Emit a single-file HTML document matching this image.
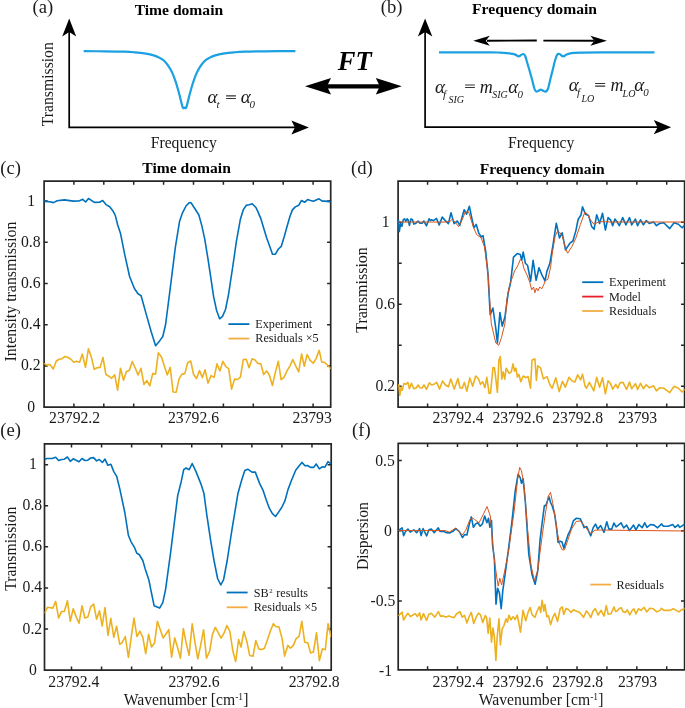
<!DOCTYPE html><html><head><meta charset="utf-8"><style>html,body{margin:0;padding:0;background:#fff;}svg{display:block;}text{font-family:"Liberation Serif",serif;}</style></head><body>
<svg width="685" height="708" viewBox="0 0 685 708">
<rect width="685" height="708" fill="#fff"/>
<defs>
<clipPath id="clc"><rect x="44.1" y="181.1" width="286.6" height="226"/></clipPath>
<clipPath id="cld"><rect x="398.1" y="181.1" width="286.5" height="226"/></clipPath>
<clipPath id="cle"><rect x="44.5" y="443.9" width="286.7" height="226.3"/></clipPath>
<clipPath id="clf"><rect x="398.2" y="443.4" width="286.4" height="226.5"/></clipPath>
</defs>
<path d="M69.2,32 L69.2,127.4 L297,127.4" fill="none" stroke="#000" stroke-width="1.7"/>
<path d="M69.2,18.4 L76.2,36.4 L69.2,31.9 L62.2,36.4 Z" fill="#000"/>
<path d="M308.9,127.4 L291.4,134.4 L294.9,127.4 L291.4,120.4 Z" fill="#000"/>
<path d="M83.7,51.17 C87.17,51.19 97.7,51.21 104.5,51.3 C111.3,51.39 119.5,51.53 124.5,51.7 C129.5,51.87 131.17,52.02 134.5,52.3 C137.83,52.58 141.17,52.85 144.5,53.4 C147.83,53.95 151.92,54.83 154.5,55.6 C157.08,56.37 158.35,57.1 160,58 C161.65,58.9 162.93,59.55 164.4,61 C165.87,62.45 167.48,64.72 168.8,66.7 C170.12,68.68 171.22,70.57 172.3,72.9 C173.38,75.23 174.35,77.93 175.3,80.7 C176.25,83.47 177.2,86.72 178,89.5 C178.8,92.28 179.38,94.63 180.1,97.4 C180.82,100.17 181.78,104.32 182.3,106.1 C182.82,107.88 182.83,107.87 183.2,108.1 C183.57,108.33 184.07,107.5 184.5,107.5 C184.93,107.5 185.43,108.33 185.8,108.1 C186.17,107.87 186.18,107.88 186.7,106.1 C187.22,104.32 188.18,100.17 188.9,97.4 C189.62,94.63 190.2,92.28 191,89.5 C191.8,86.72 192.75,83.47 193.7,80.7 C194.65,77.93 195.62,75.23 196.7,72.9 C197.78,70.57 198.88,68.68 200.2,66.7 C201.52,64.72 203.13,62.45 204.6,61 C206.07,59.55 207.35,58.9 209,58 C210.65,57.1 211.92,56.37 214.5,55.6 C217.08,54.83 221.17,53.95 224.5,53.4 C227.83,52.85 231.17,52.58 234.5,52.3 C237.83,52.02 239.5,51.87 244.5,51.7 C249.5,51.53 256.02,51.4 264.5,51.3 C272.98,51.2 290.25,51.13 295.4,51.1" fill="none" stroke="#1BA1E2" stroke-width="2.2" stroke-linejoin="round"/>
<path d="M425.1,31 L425.1,127.2 L658,127.2" fill="none" stroke="#000" stroke-width="1.7"/>
<path d="M425.1,18.4 L432.3,36.4 L425.1,31.9 L417.9,36.4 Z" fill="#000"/>
<path d="M671.1,127.2 L653.8,134.3 L657.6,127.2 L653.8,120.1 Z" fill="#000"/>
<path d="M487,40.8 L536.8,40.5" stroke="#000" stroke-width="1.9"/>
<path d="M473.3,40.8 L489.8,35.8 L485.8,40.8 L489.8,45.8 Z" fill="#000"/>
<path d="M543.4,40.6 L594,40.8" stroke="#000" stroke-width="1.9"/>
<path d="M606.9,40.8 L590.4,45.8 L594.4,40.8 L590.4,35.8 Z" fill="#000"/>
<path d="M439,52.3 C447.5,52.32 479.83,52.35 490,52.4 C500.17,52.45 497.17,52.48 500,52.6 C502.83,52.72 505.05,52.9 507,53.1 C508.95,53.3 510.33,53.55 511.7,53.8 C513.07,54.05 514.03,54.17 515.2,54.6 C516.37,55.03 517.73,56.33 518.7,56.4 C519.67,56.47 520.22,55.4 521,55 C521.78,54.6 522.72,53.87 523.4,54 C524.08,54.13 524.43,54.23 525.1,55.8 C525.77,57.37 526.62,60.78 527.4,63.4 C528.18,66.02 529.02,68.78 529.8,71.5 C530.58,74.22 531.32,76.78 532.1,79.7 C532.88,82.62 533.82,87.02 534.5,89 C535.18,90.98 535.53,91.3 536.2,91.6 C536.87,91.9 537.72,91.13 538.5,90.8 C539.28,90.47 540.12,89.6 540.9,89.6 C541.68,89.6 542.43,90.47 543.2,90.8 C543.97,91.13 544.72,91.9 545.5,91.6 C546.28,91.3 547.12,90.98 547.9,89 C548.68,87.02 549.42,82.8 550.2,79.7 C550.98,76.6 551.82,73.52 552.6,70.4 C553.38,67.28 554.13,63.63 554.9,61 C555.67,58.37 556.42,55.77 557.2,54.6 C557.98,53.43 558.62,53.7 559.6,54 C560.58,54.3 561.93,56.3 563.1,56.4 C564.27,56.5 565.25,55.15 566.6,54.6 C567.95,54.05 568.97,53.43 571.2,53.1 C573.43,52.77 575.2,52.72 580,52.6 C584.8,52.48 587.58,52.45 600,52.4 C612.42,52.35 645.42,52.32 654.5,52.3" fill="none" stroke="#1BA1E2" stroke-width="2.2" stroke-linejoin="round"/>
<path d="M325,86.3 L382,86.3" stroke="#000" stroke-width="4.2"/>
<path d="M305,86.3 L331,78.1 L327,86.3 L331,94.5 Z" fill="#000"/>
<path d="M401.8,86.3 L375.8,94.5 L379.8,86.3 L375.8,78.1 Z" fill="#000"/>
<path d="M44.1,181.1 H330.7 V407.1 H44.1 Z" fill="none" stroke="#262626" stroke-width="1.7"/><path d=" M73.9,181.1 v3.6 M73.9,407.1 v-3.6 M103.8,181.1 v3.6 M103.8,407.1 v-3.6 M133.7,181.1 v3.6 M133.7,407.1 v-3.6 M163.6,181.1 v3.6 M163.6,407.1 v-3.6 M193.5,181.1 v3.6 M193.5,407.1 v-3.6 M223.4,181.1 v3.6 M223.4,407.1 v-3.6 M253.3,181.1 v3.6 M253.3,407.1 v-3.6 M283.2,181.1 v3.6 M283.2,407.1 v-3.6 M313.1,181.1 v3.6 M313.1,407.1 v-3.6 M44.1,365.9 h3.6 M330.7,365.9 h-3.6 M44.1,324.7 h3.6 M330.7,324.7 h-3.6 M44.1,283.5 h3.6 M330.7,283.5 h-3.6 M44.1,242.3 h3.6 M330.7,242.3 h-3.6 M44.1,201.1 h3.6 M330.7,201.1 h-3.6" fill="none" stroke="#262626" stroke-width="1.5"/>
<path d="M398.1,181.1 H684.6 V407.1 H398.1 Z" fill="none" stroke="#262626" stroke-width="1.7"/><path d=" M427.59,181.1 v3.6 M427.59,407.1 v-3.6 M457.48,181.1 v3.6 M457.48,407.1 v-3.6 M487.37,181.1 v3.6 M487.37,407.1 v-3.6 M517.26,181.1 v3.6 M517.26,407.1 v-3.6 M547.15,181.1 v3.6 M547.15,407.1 v-3.6 M577.04,181.1 v3.6 M577.04,407.1 v-3.6 M606.93,181.1 v3.6 M606.93,407.1 v-3.6 M636.82,181.1 v3.6 M636.82,407.1 v-3.6 M666.71,181.1 v3.6 M666.71,407.1 v-3.6 M398.1,386.2 h3.6 M684.6,386.2 h-3.6 M398.1,345.2 h3.6 M684.6,345.2 h-3.6 M398.1,304.2 h3.6 M684.6,304.2 h-3.6 M398.1,263.2 h3.6 M684.6,263.2 h-3.6 M398.1,222.2 h3.6 M684.6,222.2 h-3.6" fill="none" stroke="#262626" stroke-width="1.5"/>
<path d="M44.5,443.9 H331.2 V670.2 H44.5 Z" fill="none" stroke="#262626" stroke-width="1.7"/><path d=" M71.5,443.9 v3.6 M71.5,670.2 v-3.6 M101.56,443.9 v3.6 M101.56,670.2 v-3.6 M131.62,443.9 v3.6 M131.62,670.2 v-3.6 M161.68,443.9 v3.6 M161.68,670.2 v-3.6 M191.74,443.9 v3.6 M191.74,670.2 v-3.6 M221.8,443.9 v3.6 M221.8,670.2 v-3.6 M251.86,443.9 v3.6 M251.86,670.2 v-3.6 M281.92,443.9 v3.6 M281.92,670.2 v-3.6 M311.98,443.9 v3.6 M311.98,670.2 v-3.6 M44.5,629.02 h3.6 M331.2,629.02 h-3.6 M44.5,587.94 h3.6 M331.2,587.94 h-3.6 M44.5,546.86 h3.6 M331.2,546.86 h-3.6 M44.5,505.78 h3.6 M331.2,505.78 h-3.6 M44.5,464.7 h3.6 M331.2,464.7 h-3.6" fill="none" stroke="#262626" stroke-width="1.5"/>
<path d="M398.2,443.4 H684.6 V669.9 H398.2 Z" fill="none" stroke="#262626" stroke-width="1.7"/><path d=" M427.59,443.4 v3.6 M427.59,669.9 v-3.6 M457.48,443.4 v3.6 M457.48,669.9 v-3.6 M487.37,443.4 v3.6 M487.37,669.9 v-3.6 M517.26,443.4 v3.6 M517.26,669.9 v-3.6 M547.15,443.4 v3.6 M547.15,669.9 v-3.6 M577.04,443.4 v3.6 M577.04,669.9 v-3.6 M606.93,443.4 v3.6 M606.93,669.9 v-3.6 M636.82,443.4 v3.6 M636.82,669.9 v-3.6 M666.71,443.4 v3.6 M666.71,669.9 v-3.6 M398.2,460.5 h3.6 M684.6,460.5 h-3.6 M398.2,530.75 h3.6 M684.6,530.75 h-3.6 M398.2,601 h3.6 M684.6,601 h-3.6" fill="none" stroke="#262626" stroke-width="1.5"/>
<polyline points="44,363.4 46.9,365.1 49.8,364.5 53.3,369 56.3,361 59.2,359.3 62.1,358.7 65,356.4 67.9,357.5 70.9,359.3 73.8,362.2 76.7,361.3 79.6,362.2 82.3,354 85.5,367.4 88.4,348.8 91.3,356.9 94.2,369.2 97.1,367.7 100.1,367.4 103,357.5 105.9,374.5 108.8,376.2 111.7,378.3 114.7,374.8 117.6,390.2 120.5,368.3 123.5,380.3 126.4,371.5 129.3,370.6 132.3,361.6 135.2,368 138.1,375 141,368.3 143.9,384.4 146.9,380.6 149.8,385.8 152.7,373.6 155.6,374.1 158.3,352.8 161.5,356.9 164.4,366.3 167.3,375 170.2,367.4 173.1,392 176.1,392.3 179,379.1 181.9,374.1 184.8,373.6 187.7,362.8 190.7,361 193.6,374.5 196.5,378.5 199.5,370.6 202.4,377.6 205.1,369.8 208,383.2 211,375.6 214.1,377.4 217,363.9 219.9,370.9 222.9,361.3 225.8,366.6 228.7,368.6 231.6,389.1 234.5,379.1 237.5,379.5 240.4,377.1 243.3,359.6 246.2,359.3 249.1,367.8 252.1,358.7 255,359.9 257.9,363.4 260.8,363.9 263.7,374.5 266.6,370.9 269.3,375 272.4,385.5 275.2,372.9 278.3,361.2 281.1,379.6 283.9,377.5 287,370.9 290,365.8 292.8,359.6 295.7,365.8 298.7,371.9 301.6,354 304.3,366.3 307.1,354.5 310,360.1 313.2,363.2 316.1,358.6 319.2,350.4 321.7,361.9 324.8,362.5 331,368.8" fill="none" stroke="#EDB120" stroke-width="1.6" stroke-linejoin="round" clip-path="url(#clc)"/>
<polyline points="44,201.4 49.8,201.7 53.5,202.6 57.1,200.8 64.4,199.9 73.2,201.1 79,201 82.7,199.3 85.6,202 88.5,198.5 94.4,202.4 99.5,202.3 102.7,200.5 106,204.6 109.7,206.8 112.6,210.4 115.2,215.1 117.7,225 120.6,233.8 124.8,254.9 129.6,276.5 134.4,288.5 138,293.8 141.1,295.7 146.4,314.9 151.2,331.7 155.6,345.7 159.6,340.9 162.8,336.5 165.6,324.5 170.5,286.1 175.3,247.7 179.6,221.2 182.5,212.8 186,206 189.3,202.6 191,202.8 194.9,208.8 198.8,214.7 201.8,225.6 204.8,239.4 207.7,257.2 210.7,276.9 213.6,296.7 216.6,310.5 219.6,318.8 222.5,316.4 225.5,309.5 228.5,294.7 232.4,269 236.4,241.4 240.3,219.6 243.3,209.8 246.2,205.4 249.2,204.8 252.2,203.8 256.1,207.8 257.9,211.6 260.8,218.6 263.8,228.5 266.7,237.9 269.6,246.1 272.5,254.2 275.4,254.2 278.4,249 281.3,246.3 284.2,236.7 287.1,226.2 290,216.3 292.4,209.9 295.3,206.9 298.8,205.2 301.5,200.5 304.6,202.3 307.6,199.6 310.5,200.5 313.4,201.3 319,198.8 322.2,201.1 325.1,201.1 331,201.9" fill="none" stroke="#0072BD" stroke-width="1.6" stroke-linejoin="round" clip-path="url(#clc)"/>
<polyline points="398.7,384.3 399.8,395.3 401.2,387.2 402.4,390.1 403.8,383.6 406,384.3 407.9,382.4 409.4,388.7 411.4,383.3 413.8,388.7 416.2,388 418.1,385 419.9,387.7 422.1,388 424,385 426.5,389.4 429.4,382.8 431.6,385 434.5,383.9 436.7,382.4 439.6,389.1 442.5,381 445.4,385 448.4,386.8 450.8,378.9 454.2,389.1 457.9,378.5 460,387.7 462.2,388.2 464.4,382.4 466.9,391.2 469.8,378 472.7,386.2 475.7,376 478.3,378.5 480.5,384.3 482.7,381.8 484.9,387.7 486.8,377.4 489.1,393.5 490.5,393.1 493,367.5 494.5,367.8 497.4,392.3 498.9,360.2 500.3,356.6 501.8,379.2 503.2,371.9 504.7,379.2 506.2,368.2 509.1,373.4 511.3,371.9 513,363.9 514.5,371.2 515.9,368.2 517.4,377 518.9,374.5 520.8,381.8 523.2,376 525.6,377.7 528.1,376.6 530.5,388.2 532,360.2 534.9,358.8 536.4,380.4 537.8,365.8 540.5,367.8 543.4,378.9 547,376.6 550,385 552.2,388.2 555.8,377.7 559.2,391.6 562.4,381.4 565.3,387.2 568.9,377.4 571.9,380.7 574.8,382.1 577.7,374.8 580.6,379.9 582.5,374.1 585,386 586.5,388.2 589.4,382.4 593.8,390.9 596.7,377.4 599.6,387.2 602.5,377.7 605.4,393.8 608.1,380.7 610.5,383.6 612.7,389.1 615.7,384.3 617.8,388.2 620,382.8 623,382.4 626.6,389.4 629.5,382.1 631.7,388.7 635.4,383.6 637.6,389.4 640.5,383.3 643.4,388.7 646.3,384.7 649.2,387.7 653.6,385.8 656.5,390.9 659.5,387.7 663.8,388.2 669.7,392.6 674.1,386.2 678.4,388.2 682.1,392 685,389.1" fill="none" stroke="#EDB120" stroke-width="1.6" stroke-linejoin="round" clip-path="url(#cld)"/>
<polyline points="398.4,219.3 399.3,231.5 400.6,223.6 401.9,226.3 403.3,219.7 404.6,218.8 405.9,221.5 407.2,218.8 408.1,219.7 409.4,225.4 411.1,218.8 412.5,219.7 413.8,224.1 415.5,223.6 418.1,221 419.9,223.2 422.1,223.2 423.8,221 426.5,225.8 429.1,218.8 430.4,220.6 431.7,219.7 433.5,220.6 436.5,218.4 439.2,225 442.2,217.1 445.3,220.6 448.4,223.6 451,212.7 454.1,223.6 457.4,221 459.7,225.5 464.2,209.7 466.5,214.2 469.4,206.3 471.7,217.6 473.9,227.8 476.2,224.4 478.9,233.4 481.2,236.8 483,235.7 485.7,251.5 488,274.1 490.2,314.8 492.9,308 495.8,328.3 497.4,343 499.9,312.5 502.2,326.1 504.9,317 508.3,292.2 510.5,283.1 513.5,257.1 517.2,253.6 520.2,254.4 521.7,260.3 523.2,252.1 525.4,263.3 527.6,265.5 530.6,281.1 533.1,260.3 536.1,280.3 539,267.7 542,275.1 545,280.8 546.9,271.4 549.9,263.3 552.8,246.2 556.3,223.2 559.5,238 562.2,232.8 565.5,249.9 569.9,243.2 572.9,241 575.9,230.6 578.1,219.5 581,215 582.5,206.9 585.5,214.3 588.6,215.4 591.6,226.4 594.1,229.3 596.7,214.7 599.6,223.5 602.5,213.2 605.4,230 608.1,217.6 610.5,219.8 612.7,225.7 614.9,219.1 617.1,222 619.3,225.7 622.7,217.6 625.9,224.9 629.5,217.6 631.7,224.9 635.4,219.1 637.6,225.7 640.5,219.8 643.4,224.9 646.3,220.5 649.2,223.5 653.6,222 656.5,225.7 659.5,223.5 663.8,222.7 669.7,228.6 674.1,222.7 678.4,224.2 682.1,227.8 685,224.9" fill="none" stroke="#0072BD" stroke-width="1.6" stroke-linejoin="round" clip-path="url(#cld)"/>
<polyline points="398.2,222 420,222 445,222.1 450,221.3 452.3,219.3 455,222 458.6,226.6 462,220 465.3,212 468.7,212 473.2,226.6 476.6,234.5 481.2,237.9 484.5,247 488,274.1 491.3,323.8 495.8,343 498.8,345.3 501.5,337.4 504.9,323.8 507,298.4 509.8,284.2 512.7,276.6 514.6,270.9 516.5,268 518.4,264.3 520.3,259.5 522.2,261.4 524.1,269 526.9,274.7 529.8,282.3 531.7,289.9 533.6,287 534.9,292.7 536.4,288 537.9,290.8 539.8,287 541.7,288.9 543.6,285.1 545.5,280.4 547.8,279.4 550.6,267.1 552.1,254.4 555.1,236.6 557.3,231.4 559.5,232.1 562.5,236.6 565.5,248.4 567.7,253.2 572.1,246.2 575.9,238 580.3,224.7 584.8,212.1 587.7,214.3 589.4,218.4 593.8,224.2 599.6,221.6 610,222 685,222" fill="none" stroke="#D95319" stroke-width="1.0" stroke-linejoin="round" clip-path="url(#cld)"/>
<polyline points="44.5,613.4 47.5,607.3 52.8,608.1 55.7,601.4 58.6,618 61.5,611.6 64.4,611.3 67.4,600.7 70.3,621.3 73.2,608.7 76.1,616.6 79,623.3 82,605.8 84.9,618 87.8,617.1 90.7,606.9 93.6,604 96.6,619.2 99.5,610.8 102.2,626 105,607.5 108,635.3 110.8,618.3 113.8,637.3 116.6,626.2 119.7,644.3 122.3,642.3 125.3,636.5 128.4,657.5 131.4,636.1 134,618 136.9,636.5 139.9,631.1 142.8,637.3 145.7,653.6 148.6,634.4 151.5,647 154.5,643.1 157.4,621.3 160.3,629.7 163.2,637.9 166.1,633.8 168.8,629.7 171.6,657.2 174.7,637.9 177.5,647.2 180.5,658.3 183.3,628.5 186.3,643.7 189.1,655.4 192.2,623.9 195,642.6 197.8,658.9 200.7,644.9 203.6,629.7 206.5,658.3 209.8,650.7 212.4,634.4 215.3,627.4 218.2,632.6 221.1,638.1 224,633.2 226.9,625.6 229.9,631.5 232.8,650.7 235.7,661.5 238.6,639.6 241,647 243.9,631.5 246.8,641.4 249.7,655.4 253,656.3 255.8,640.5 258.8,649 261.4,649.6 264.3,648.6 267.1,640.8 270.5,630.7 273.3,623.7 276.1,626.7 278.9,626.7 282.1,638.6 284.6,656.1 287.8,645.4 290.5,648.2 293.4,645.4 296.1,638.6 299.1,636.3 301.8,621.4 304.7,642.2 307.8,642.9 310.6,653 313.4,652.1 316.5,632.9 319.4,660.6 322.4,648.8 325.3,649.7 328.1,623.7 331,637.2" fill="none" stroke="#EDB120" stroke-width="1.6" stroke-linejoin="round" clip-path="url(#cle)"/>
<polyline points="44.5,459.5 46.9,458.5 52,458.5 55.7,457.3 58.6,460.5 61.5,459.5 64.4,459.2 67.4,457 70.3,461.4 73.2,458.8 79,461.7 82,458.5 84.9,460.5 87.8,460.2 90.7,458 93.6,457.6 96.6,460.9 99.2,459.5 102.4,462.4 105,459.1 107.9,465.3 110.9,464.2 113.8,471.6 116.7,476.3 119.9,489.4 124.8,512.5 128.4,535.3 130.8,541.3 134.4,547.3 136.8,553.3 139.2,554.5 142.8,560.5 145.2,568.9 148.8,579.7 151.2,591.7 154.1,605.7 159.6,608.1 162.8,602.6 165.6,589.3 170.5,553.3 175.3,514.9 177.7,495.6 181.3,481.2 183.7,469.7 186.1,468 189.2,469.7 192.2,463.5 196,471.6 200.8,483.6 203.9,493.2 206.8,514.9 210.4,538.9 214,560.5 217.6,578.5 220.8,585 223.6,579.7 227.2,560.5 232,529.3 238,493.2 241.7,480 244.8,470.4 247.7,469.2 252,472.1 255.3,472.1 259.7,483.6 263.1,490.4 266.2,499.7 269.3,508.2 272.4,513.7 275.5,516.5 278.6,512.1 281.7,507.5 284.8,501.2 288,489.6 291.8,479.5 295.7,470.2 298.8,466.3 301.9,462.4 305,465.8 307.4,465.5 310.5,467.4 313.6,467.4 316.2,464 319.3,468.9 322.1,466.8 324.9,467.1 328,461.6 331,464" fill="none" stroke="#0072BD" stroke-width="1.6" stroke-linejoin="round" clip-path="url(#cle)"/>
<polyline points="398.5,616 402.1,612.1 403.6,620 405.6,616.5 407.9,613.3 410.3,616.5 415.3,613.6 417.3,616.5 419.6,612.8 421.1,620 423.5,613.6 426.6,620.3 428.9,614.2 431.3,613.3 434.8,617.1 438.3,611.6 440.6,616.3 443,615.9 445.9,617.1 448.8,615.9 451.1,616.8 454.1,617.7 456.4,614 459.9,611.6 462.2,617.1 464.6,615.4 466.9,623 469.2,616.5 471.3,612.4 473.7,623.5 476.4,616.6 478.5,613.1 480.6,614.9 482.7,622.6 485.3,615.5 486.7,618.1 488.1,633.3 489.8,618.1 491.5,642.1 492.9,628 494.3,636.4 495.9,660.5 497.1,637.8 499,618.8 500.4,644.9 502.2,628.7 503.9,625.8 506,618.8 507.5,622.3 508.9,615.2 511,619.8 513.1,616.6 515.2,619.5 517.3,615.2 520.5,632.2 523,610.3 525.8,620.9 528,612.4 530.1,607.5 532.2,614.9 535,617.3 537.1,611 539.3,606.7 540.7,612.4 542.1,600.4 543.8,611 544.9,604.6 546.8,616.7 548.5,615.8 550.6,624.7 552.6,617.9 554.9,613.4 557.6,621.4 560.2,608.5 562.3,606.8 563.7,614.4 566,608.5 568.4,609.5 570.9,612.3 573.6,609.7 575.9,611.1 579.5,612.3 583.5,617.3 586.5,610.9 588.8,613.8 590.8,617.6 592.9,611.5 595.2,608.5 598.1,615 601.1,610.3 604,616.1 606.3,605.6 608.1,614.1 611,613.8 613.9,607.1 615.7,611.5 617,610.9 619.1,608.8 621.1,607.6 623.2,611.9 625.2,612.4 627.3,609.9 629.8,615 631.9,610.9 633.9,608.8 635.9,613.9 638.5,608.8 641.1,610.4 644.1,607.3 646.7,611.9 649.7,608.3 653.3,608.8 656.9,611.9 660,610.4 661.5,608.3 664,610.4 670.2,610.4 673.2,608.8 676.3,610.4 678.9,611.9 681.4,609.9 685,608.3" fill="none" stroke="#EDB120" stroke-width="1.6" stroke-linejoin="round" clip-path="url(#clf)"/>
<polyline points="398.5,530.4 402.1,527.8 403.6,535.6 405.6,531.5 407.9,529 410.3,532.1 413.8,529.8 416.7,532.7 419.6,528.6 421.1,535.6 423.1,528.6 426.6,536 428.9,529.8 431.3,529 434.2,532.7 438.3,527.8 440,531.5 443.5,531.3 446.5,532.7 450,532.9 452.9,531.3 455.8,528.6 459.3,531.5 462.5,537.6 464.6,534.5 466.9,535 469.5,523.4 471.3,516.9 473.4,527.3 475.6,523.9 477.9,522.8 480.2,526.2 482.4,523.9 484.7,516 486.9,522.8 488.5,518.3 489.9,527.3 491.5,520.5 492.6,545.4 494.4,559 496,604.2 497.6,588.3 499.4,592.9 501.2,608.7 502.8,590.6 505,574.8 508.4,549.9 511.8,522.8 515.2,491.2 518.1,474.2 520.2,477.6 521.5,483.2 523.1,478.7 525.4,502.5 528.8,554.4 532.1,574.8 535.1,584.3 537.8,570.3 540,540.7 541.8,525.5 544.4,505.5 545.8,505.7 547.6,500.4 549.1,496.9 550.5,502.2 552.3,506.3 554.6,513.9 556.4,526.7 558.1,542.5 560.4,541.3 562,541.9 563.9,548.3 565.7,541.9 568,534.9 570.4,530.2 573.3,520.9 576.2,518.3 580.3,518.8 582.6,523.8 584.1,527.6 586.7,526.5 588.5,530.8 590.8,535.8 593.1,527.9 595.5,524.1 597.8,529.1 600.7,525.5 604,532.3 606.8,521.8 608.9,529.1 611.8,529.1 613.9,523 616.1,526.9 618.4,525.1 621.1,522.8 623.7,528 626.6,525.1 629.5,530.6 633.6,525.1 635.9,529.8 638.9,524.5 642.1,527.8 644.7,522.8 647,527.4 650.5,524.5 654.1,525.1 657.6,527.8 661.6,523.9 663.4,526.3 668.1,526.3 672.7,524.5 675.1,527.4 678,524.8 679.7,527.4 685,523.9" fill="none" stroke="#0072BD" stroke-width="1.6" stroke-linejoin="round" clip-path="url(#clf)"/>
<polyline points="398.5,530.6 445,530.6 449.4,532.1 455.8,528 462.2,535 465.7,530.4 470,519.4 472.7,518.1 474.5,519.4 479,522.8 483.6,513.8 487,506.5 490.3,516 493.7,554.4 496.7,577 498.2,586.1 499.8,578.2 501.6,584.9 503.9,574.8 508.4,552.2 514.1,511.5 517.5,479.9 519.7,467.4 521.5,470.8 524.2,486.6 527.6,529.6 531,565.7 534.4,580.4 537.8,570.3 540,552.4 542.3,534.9 545.3,513.9 548.2,496.4 550.5,492.3 552.8,503.4 555.2,517.4 557.5,533.7 559.9,544.8 562.2,549.8 564.5,549.8 568,539.6 571.5,529.1 576.2,521.5 580.3,520.9 584.4,526.1 587.9,530.2 590.8,533.7 594.9,530.2 600.7,530 610.1,530.2 685,531" fill="none" stroke="#D95319" stroke-width="1.0" stroke-linejoin="round" clip-path="url(#clf)"/>
<path d="M228.4,324.1 H249.4" stroke="#0072BD" stroke-width="1.8"/>
<path d="M228.4,338.6 H249.4" stroke="#F2AE45" stroke-width="1.8"/>
<path d="M582.2,282.2 H603.3" stroke="#0072BD" stroke-width="1.8"/>
<path d="M582.2,296.6 H603.3" stroke="#E8202A" stroke-width="1.8"/>
<path d="M582.2,311 H603.3" stroke="#F2AE45" stroke-width="1.8"/>
<path d="M226.7,592.5 H247.6" stroke="#0072BD" stroke-width="1.8"/>
<path d="M226.7,607.3 H247.6" stroke="#F2AE45" stroke-width="1.8"/>
<path d="M590.3,584.6 H611" stroke="#F2AE45" stroke-width="1.8"/>
<g style="filter:grayscale(1)">
<text x="255.3" y="328" font-size="12.2" text-anchor="start" font-weight="normal" font-style="normal" fill="#1a1a1a" >Experiment</text>
<text x="255.3" y="342.1" font-size="12.2" text-anchor="start" font-weight="normal" font-style="normal" fill="#1a1a1a" >Residuals ×5</text>
<text x="609" y="286" font-size="12.2" text-anchor="start" font-weight="normal" font-style="normal" fill="#1a1a1a" >Experiment</text>
<text x="609" y="300.5" font-size="12.2" text-anchor="start" font-weight="normal" font-style="normal" fill="#1a1a1a" >Model</text>
<text x="609" y="315" font-size="12.2" text-anchor="start" font-weight="normal" font-style="normal" fill="#1a1a1a" >Residuals</text>
<text x="253.7" y="596.9" font-size="12.2" text-anchor="start" font-weight="normal" font-style="normal" fill="#1a1a1a" >SB<tspan font-size="6.8" dy="-4.3" dx="0.6">2</tspan><tspan dy="4.3" dx="0.6"> results</tspan></text>
<text x="253.7" y="611.3" font-size="12.2" text-anchor="start" font-weight="normal" font-style="normal" fill="#1a1a1a" >Residuals ×5</text>
<text x="616.5" y="589" font-size="12.2" text-anchor="start" font-weight="normal" font-style="normal" fill="#1a1a1a" >Residuals</text>
<text x="178.9" y="14.9" font-size="15.6" text-anchor="middle" font-weight="bold" font-style="normal" fill="#000" >Time domain</text>
<text x="534.5" y="14.1" font-size="15.6" text-anchor="middle" font-weight="bold" font-style="normal" fill="#000" >Frequency domain</text>
<text x="186.6" y="173.4" font-size="15.6" text-anchor="middle" font-weight="bold" font-style="normal" fill="#000" >Time domain</text>
<text x="542.2" y="173.7" font-size="15.6" text-anchor="middle" font-weight="bold" font-style="normal" fill="#000" >Frequency domain</text>
<text x="32.6" y="13.1" font-size="18.6" text-anchor="start" font-weight="normal" font-style="normal" fill="#1a1a1a" >(a)</text>
<text x="380.8" y="13.1" font-size="18.6" text-anchor="start" font-weight="normal" font-style="normal" fill="#1a1a1a" >(b)</text>
<text x="0.3" y="174.3" font-size="18.6" text-anchor="start" font-weight="normal" font-style="normal" fill="#1a1a1a" >(c)</text>
<text x="351" y="174.3" font-size="18.6" text-anchor="start" font-weight="normal" font-style="normal" fill="#1a1a1a" >(d)</text>
<text x="0.3" y="435.6" font-size="18.6" text-anchor="start" font-weight="normal" font-style="normal" fill="#1a1a1a" >(e)</text>
<text x="352" y="435.6" font-size="18.6" text-anchor="start" font-weight="normal" font-style="normal" fill="#1a1a1a" >(f)</text>
<text x="183.8" y="147.6" font-size="15.7" text-anchor="middle" font-weight="normal" font-style="normal" fill="#1a1a1a" >Frequency</text>
<text x="541.2" y="147.7" font-size="15.7" text-anchor="middle" font-weight="normal" font-style="normal" fill="#1a1a1a" >Frequency</text>
<text x="52.7" y="84.2" font-size="15.7" text-anchor="middle" font-weight="normal" font-style="normal" fill="#1a1a1a" transform="rotate(-90 52.7 84.2)">Transmission</text>
<text x="354.7" y="69.6" font-size="26.5" text-anchor="middle" font-weight="bold" font-style="italic" fill="#000" >FT</text>
<text x="207.5" y="103.2" font-size="19" text-anchor="start" font-weight="normal" font-style="italic" fill="#1a1a1a" >α</text>
<text x="216.5" y="107.5" font-size="11" text-anchor="start" font-weight="normal" font-style="italic" fill="#1a1a1a" >t</text>
<path d="M226.1,95.9 H235.9 M226.1,98.5 H235.9" stroke="#333" stroke-width="1.1"/>
<text x="240.8" y="103.2" font-size="19" text-anchor="start" font-weight="normal" font-style="italic" fill="#1a1a1a" >α</text>
<text x="249.4" y="107.5" font-size="11" text-anchor="start" font-weight="normal" font-style="italic" fill="#1a1a1a" >0</text>
<text x="435" y="92.6" font-size="19" text-anchor="start" font-weight="normal" font-style="italic" fill="#1a1a1a" >α</text>
<text x="443" y="97.8" font-size="11" text-anchor="start" font-weight="normal" font-style="italic" fill="#1a1a1a" >f</text>
<text x="448.5" y="103.2" font-size="10" text-anchor="start" font-weight="normal" font-style="italic" fill="#1a1a1a" >SIG</text>
<path d="M465.1,85 H474.9 M465.1,87.5 H474.9" stroke="#333" stroke-width="1.1"/>
<text x="479.8" y="92.6" font-size="18" text-anchor="start" font-weight="normal" font-style="italic" fill="#1a1a1a" >m</text>
<text x="492.2" y="98.2" font-size="10" text-anchor="start" font-weight="normal" font-style="italic" fill="#1a1a1a" >SIG</text>
<text x="508.2" y="92.6" font-size="19" text-anchor="start" font-weight="normal" font-style="italic" fill="#1a1a1a" >α</text>
<text x="517.5" y="97.8" font-size="11" text-anchor="start" font-weight="normal" font-style="italic" fill="#1a1a1a" >0</text>
<text x="568.8" y="91.1" font-size="19" text-anchor="start" font-weight="normal" font-style="italic" fill="#1a1a1a" >α</text>
<text x="577" y="96.3" font-size="11" text-anchor="start" font-weight="normal" font-style="italic" fill="#1a1a1a" >f</text>
<text x="581.5" y="101.9" font-size="10" text-anchor="start" font-weight="normal" font-style="italic" fill="#1a1a1a" >LO</text>
<path d="M595.1,83.5 H605.2 M595.1,86.1 H605.2" stroke="#333" stroke-width="1.1"/>
<text x="610.5" y="91.1" font-size="18" text-anchor="start" font-weight="normal" font-style="italic" fill="#1a1a1a" >m</text>
<text x="622.6" y="96.8" font-size="10" text-anchor="start" font-weight="normal" font-style="italic" fill="#1a1a1a" >LO</text>
<text x="634.3" y="91.1" font-size="19" text-anchor="start" font-weight="normal" font-style="italic" fill="#1a1a1a" >α</text>
<text x="643.3" y="96.3" font-size="11" text-anchor="start" font-weight="normal" font-style="italic" fill="#1a1a1a" >0</text>
<text x="35.2" y="205.6" font-size="15.7" text-anchor="end" font-weight="normal" font-style="normal" fill="#1a1a1a" >1</text>
<text x="40.5" y="246.8" font-size="15.7" text-anchor="end" font-weight="normal" font-style="normal" fill="#1a1a1a" >0.8</text>
<text x="40.5" y="288" font-size="15.7" text-anchor="end" font-weight="normal" font-style="normal" fill="#1a1a1a" >0.6</text>
<text x="40.5" y="329.2" font-size="15.7" text-anchor="end" font-weight="normal" font-style="normal" fill="#1a1a1a" >0.4</text>
<text x="40.5" y="370.4" font-size="15.7" text-anchor="end" font-weight="normal" font-style="normal" fill="#1a1a1a" >0.2</text>
<text x="35.2" y="411.6" font-size="15.7" text-anchor="end" font-weight="normal" font-style="normal" fill="#1a1a1a" >0</text>
<text x="389.5" y="226.7" font-size="15.7" text-anchor="end" font-weight="normal" font-style="normal" fill="#1a1a1a" >1</text>
<text x="395.2" y="308.7" font-size="15.7" text-anchor="end" font-weight="normal" font-style="normal" fill="#1a1a1a" >0.6</text>
<text x="395.2" y="390.7" font-size="15.7" text-anchor="end" font-weight="normal" font-style="normal" fill="#1a1a1a" >0.2</text>
<text x="36.8" y="469.2" font-size="15.7" text-anchor="end" font-weight="normal" font-style="normal" fill="#1a1a1a" >1</text>
<text x="42.2" y="510.28" font-size="15.7" text-anchor="end" font-weight="normal" font-style="normal" fill="#1a1a1a" >0.8</text>
<text x="42.2" y="551.36" font-size="15.7" text-anchor="end" font-weight="normal" font-style="normal" fill="#1a1a1a" >0.6</text>
<text x="42.2" y="592.44" font-size="15.7" text-anchor="end" font-weight="normal" font-style="normal" fill="#1a1a1a" >0.4</text>
<text x="42.2" y="633.52" font-size="15.7" text-anchor="end" font-weight="normal" font-style="normal" fill="#1a1a1a" >0.2</text>
<text x="36.8" y="674.6" font-size="15.7" text-anchor="end" font-weight="normal" font-style="normal" fill="#1a1a1a" >0</text>
<text x="394.8" y="466" font-size="15.7" text-anchor="end" font-weight="normal" font-style="normal" fill="#1a1a1a" >0.5</text>
<text x="391.9" y="535.85" font-size="15.7" text-anchor="end" font-weight="normal" font-style="normal" fill="#1a1a1a" >0</text>
<text x="395.3" y="606.3" font-size="15.7" text-anchor="end" font-weight="normal" font-style="normal" fill="#1a1a1a" >-0.5</text>
<text x="392.2" y="676.25" font-size="15.7" text-anchor="end" font-weight="normal" font-style="normal" fill="#1a1a1a" >-1</text>
<text x="74.6" y="422.8" font-size="15.7" text-anchor="middle" font-weight="normal" font-style="normal" fill="#1a1a1a" >23792.2</text>
<text x="193.5" y="422.8" font-size="15.7" text-anchor="middle" font-weight="normal" font-style="normal" fill="#1a1a1a" >23792.6</text>
<text x="312.2" y="422.8" font-size="15.7" text-anchor="middle" font-weight="normal" font-style="normal" fill="#1a1a1a" >23793</text>
<text x="458.1" y="423.3" font-size="15.7" text-anchor="middle" font-weight="normal" font-style="normal" fill="#1a1a1a" >23792.4</text>
<text x="517.9" y="423.3" font-size="15.7" text-anchor="middle" font-weight="normal" font-style="normal" fill="#1a1a1a" >23792.6</text>
<text x="577.7" y="423.3" font-size="15.7" text-anchor="middle" font-weight="normal" font-style="normal" fill="#1a1a1a" >23792.8</text>
<text x="637.6" y="423.3" font-size="15.7" text-anchor="middle" font-weight="normal" font-style="normal" fill="#1a1a1a" >23793</text>
<text x="73.8" y="687" font-size="15.7" text-anchor="middle" font-weight="normal" font-style="normal" fill="#1a1a1a" >23792.4</text>
<text x="194" y="687" font-size="15.7" text-anchor="middle" font-weight="normal" font-style="normal" fill="#1a1a1a" >23792.6</text>
<text x="314.2" y="687" font-size="15.7" text-anchor="middle" font-weight="normal" font-style="normal" fill="#1a1a1a" >23792.8</text>
<text x="458.1" y="687" font-size="15.7" text-anchor="middle" font-weight="normal" font-style="normal" fill="#1a1a1a" >23792.4</text>
<text x="517.9" y="687" font-size="15.7" text-anchor="middle" font-weight="normal" font-style="normal" fill="#1a1a1a" >23792.6</text>
<text x="577.7" y="687" font-size="15.7" text-anchor="middle" font-weight="normal" font-style="normal" fill="#1a1a1a" >23792.8</text>
<text x="637.6" y="687" font-size="15.7" text-anchor="middle" font-weight="normal" font-style="normal" fill="#1a1a1a" >23793</text>
<text x="186" y="705" font-size="15.7" text-anchor="middle" font-weight="normal" font-style="normal" fill="#1a1a1a" >Wavenumber [cm<tspan font-size="9.5" dy="-5.5">-1</tspan><tspan dy="5.5">]</tspan></text>
<text x="541" y="705" font-size="15.7" text-anchor="middle" font-weight="normal" font-style="normal" fill="#1a1a1a" >Wavenumber [cm<tspan font-size="9.5" dy="-5.5">-1</tspan><tspan dy="5.5">]</tspan></text>
<text x="15.3" y="292" font-size="15.9" text-anchor="middle" font-weight="normal" font-style="normal" fill="#1a1a1a" transform="rotate(-90 15.3 291.5)">Intensity transmission</text>
<text x="367.1" y="290.1" font-size="16.0" text-anchor="middle" font-weight="normal" font-style="normal" fill="#1a1a1a" transform="rotate(-90 367.1 290)">Transmission</text>
<text x="15.8" y="548.7" font-size="15.7" text-anchor="middle" font-weight="normal" font-style="normal" fill="#1a1a1a" transform="rotate(-90 15.8 548.7)">Transmission</text>
<text x="368" y="536.1" font-size="15.7" text-anchor="middle" font-weight="normal" font-style="normal" fill="#1a1a1a" transform="rotate(-90 368 536.1)">Dispersion</text>
</g>
</svg></body></html>
